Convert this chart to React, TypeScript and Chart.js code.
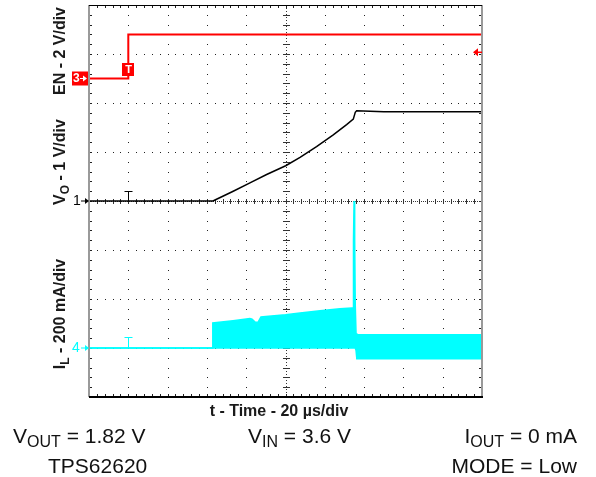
import React, { useEffect, useRef } from "react";
import { Chart, registerables } from "chart.js";

Chart.register(...registerables);

// ---- scope settings ----
const TIME_DIV = 20; // µs/div
const H_DIVS = 10;
const V_DIVS = 8;
const TRIGGER_T = 20; // µs

// EN channel (ch3), 2 V/div
const EN_SCALE = 2;
const EN_OFFSET = 2.5; // divisions above centre
const EN_TRIG = 1.07; // V, trigger level
const enTime = [0, 20, 20, 200];
const enVolts = [0, 0, 1.8, 1.8];

// VO channel (ch1), 1 V/div
const VO_SCALE = 1;
const VO_OFFSET = 0;
const voTime = [0, 63.1, 64.1, 73.4, 81.9, 90.4, 100.1, 107.4, 115.8, 124.3, 131.1, 134.5, 135.5, 136.2, 150, 170, 200];
const voVolts = [0, 0, 0.02, 0.2, 0.37, 0.54, 0.72, 0.89, 1.11, 1.35, 1.56, 1.67, 1.81, 1.84, 1.82, 1.82, 1.82];

// IL channel (ch4), 200 mA/div – switching ripple envelope
const IL_SCALE = 200;
const IL_OFFSET = -3;
const ilTime = [0, 62.9, 63.0, 73.3, 81.9, 83.0, 84.5, 86.0, 87.5, 90.0, 100.0, 107.4, 117.6, 127.7, 133.8, 134.4, 134.6, 134.9, 135.2, 135.5, 135.9, 136.3, 160, 180, 200];
const ilTop = [0, 0, 102, 111, 120, 118, 106, 105, 127, 129, 136, 143, 152, 160, 163, 163, 440, 600, 440, 175, 60, 54, 54, 54, 54];
const ilBottom = [0, 0, 0, 0, 0, 0, 0, 0, 0, 0, 0, 0, 0, 0, 0, 0, 0, 0, 0, 0, -10, -44, -44, -44, -44];

const RED = "#ff0000";
const CYAN = "#00ffff";
const FONT = '"Liberation Sans", Arial, Helvetica, sans-serif';

const toPts = (t: number[], v: number[], off: number, scale: number) =>
  t.map((tt, i) => ({ x: tt, y: off + v[i] / scale }));

const graticule = {
  id: "graticule",
  beforeDatasetsDraw(chart: any) {
    const { ctx, chartArea: a, scales } = chart;
    const x = scales.x;
    const y = scales.y;
    ctx.save();
    ctx.fillStyle = "#222";
    const minorX: number[] = [];
    for (let j = 0; j <= H_DIVS * 5; j++) minorX.push(Math.round(x.getPixelForValue((j * TIME_DIV) / 5)));
    const minorY: number[] = [];
    for (let j = 0; j <= V_DIVS * 5; j++) minorY.push(Math.round(y.getPixelForValue(-V_DIVS / 2 + j / 5)));
    // vertical dotted lines
    for (let i = 1; i < H_DIVS; i++) {
      const px = Math.round(x.getPixelForValue(i * TIME_DIV));
      for (const py of minorY) ctx.fillRect(px, py, 1, 1);
    }
    // horizontal dotted lines
    for (let k = 1; k < V_DIVS; k++) {
      const py = Math.round(y.getPixelForValue(-V_DIVS / 2 + k));
      for (const px of minorX) ctx.fillRect(px, py, 1, 1);
    }
    // edge ticks
    for (const px of minorX) {
      ctx.fillRect(px, a.top, 1, 3);
      ctx.fillRect(px, a.bottom - 3, 1, 3);
    }
    for (const py of minorY) {
      ctx.fillRect(a.left, py, 3, 1);
      ctx.fillRect(a.right - 3, py, 3, 1);
    }
    // centre crosshair ticks
    const cx = Math.round(x.getPixelForValue((H_DIVS / 2) * TIME_DIV));
    const cy = Math.round(y.getPixelForValue(0));
    ctx.fillStyle = "#333";
    for (const px of minorX) ctx.fillRect(px, cy - 2, 1, 5);
    for (const py of minorY) ctx.fillRect(cx - 3, py, 7, 1);
    for (let px = a.left; px < a.right; px += 2) ctx.fillRect(px, cy, 1, 1);
    for (let py = a.top; py < a.bottom; py += 3) ctx.fillRect(cx, py, 1, 1);
    ctx.restore();
  },
};

function arrowRight(ctx: any, x0: number, x1: number, yy: number) {
  ctx.beginPath();
  ctx.moveTo(x0, yy);
  ctx.lineTo(x1 - 2, yy);
  ctx.stroke();
  ctx.beginPath();
  ctx.moveTo(x1, yy);
  ctx.lineTo(x1 - 4, yy - 3);
  ctx.lineTo(x1 - 4, yy + 3);
  ctx.closePath();
  ctx.fill();
}

const overlay = {
  id: "overlay",
  afterDatasetsDraw(chart: any) {
    const { ctx, chartArea: a, scales } = chart;
    const x = scales.x;
    const y = scales.y;
    const L = a.left;
    ctx.save();
    // frame
    ctx.strokeStyle = "#9a9a9a";
    ctx.lineWidth = 2;
    ctx.beginPath();
    ctx.moveTo(L, a.top);
    ctx.lineTo(L, a.bottom);
    ctx.moveTo(a.right, a.top);
    ctx.lineTo(a.right, a.bottom);
    ctx.stroke();
    ctx.strokeStyle = "#000";
    ctx.lineWidth = 1;
    ctx.beginPath();
    ctx.moveTo(L, a.top + 0.5);
    ctx.lineTo(a.right, a.top + 0.5);
    ctx.stroke();
    ctx.lineWidth = 2;
    ctx.beginPath();
    ctx.moveTo(L, a.bottom);
    ctx.lineTo(a.right + 1, a.bottom);
    ctx.stroke();

    const enY = y.getPixelForValue(EN_OFFSET);
    const voY = y.getPixelForValue(VO_OFFSET);
    const ilY = y.getPixelForValue(IL_OFFSET);
    const tx = Math.round(x.getPixelForValue(TRIGGER_T)) + 0.5;

    // ch3 ground marker
    ctx.fillStyle = RED;
    ctx.fillRect(L - 17, enY - 7, 16, 14);
    ctx.fillStyle = "#fff";
    ctx.strokeStyle = "#fff";
    ctx.lineWidth = 1;
    ctx.font = `bold 12px ${FONT}`;
    ctx.textBaseline = "middle";
    ctx.textAlign = "left";
    ctx.fillText("3", L - 16, enY + 0.5);
    arrowRight(ctx, L - 9, L - 2, enY);

    // ch1 ground marker
    ctx.fillStyle = "#000";
    ctx.strokeStyle = "#000";
    ctx.font = `14px ${FONT}`;
    ctx.fillText("1", L - 16, voY + 0.5);
    arrowRight(ctx, L - 8, L, voY);

    // ch4 ground marker
    ctx.fillStyle = CYAN;
    ctx.strokeStyle = CYAN;
    ctx.fillText("4", L - 17, ilY + 0.5);
    arrowRight(ctx, L - 8, L, ilY);

    // trigger markers
    ctx.fillStyle = RED;
    ctx.fillRect(tx - 6.5, enY - 15.5, 12, 13);
    ctx.fillStyle = "#fff";
    ctx.font = `bold 11px ${FONT}`;
    ctx.textAlign = "center";
    ctx.fillText("T", tx, enY - 8.5);

    ctx.lineWidth = 1;
    ctx.strokeStyle = "#000";
    ctx.beginPath();
    ctx.moveTo(tx - 4, voY - 9.5);
    ctx.lineTo(tx + 4, voY - 9.5);
    ctx.moveTo(tx, voY - 9.5);
    ctx.lineTo(tx, voY);
    ctx.stroke();

    ctx.strokeStyle = CYAN;
    ctx.beginPath();
    ctx.moveTo(tx - 4, ilY - 10.5);
    ctx.lineTo(tx + 4, ilY - 10.5);
    ctx.moveTo(tx, ilY - 10.5);
    ctx.lineTo(tx, ilY);
    ctx.stroke();

    // trigger level arrow (right side)
    const trY = y.getPixelForValue(EN_OFFSET + EN_TRIG / EN_SCALE);
    ctx.strokeStyle = RED;
    ctx.fillStyle = RED;
    ctx.lineWidth = 1.5;
    ctx.beginPath();
    ctx.moveTo(a.right - 5, trY);
    ctx.lineTo(a.right, trY);
    ctx.stroke();
    ctx.beginPath();
    ctx.moveTo(a.right - 9, trY);
    ctx.lineTo(a.right - 4, trY - 4);
    ctx.lineTo(a.right - 4, trY + 4);
    ctx.closePath();
    ctx.fill();
    ctx.restore();
  },
};

const rotLabel: React.CSSProperties = {
  position: "absolute",
  left: 60,
  transform: "translate(-50%, -50%) rotate(-90deg)",
  font: `bold 16px ${FONT}`,
  lineHeight: "16px",
  whiteSpace: "nowrap",
  color: "#1a1a1a",
};

const capStyle: React.CSSProperties = {
  position: "absolute",
  font: `21px ${FONT}`,
  lineHeight: "21px",
  whiteSpace: "nowrap",
  color: "#111",
};

const subBig: React.CSSProperties = { fontSize: 16, position: "relative", top: 4 };
const subRot: React.CSSProperties = { fontSize: 12, position: "relative", top: 4 };

export default function App() {
  const ref = useRef<HTMLCanvasElement | null>(null);
  useEffect(() => {
    if (!ref.current) return;
    const chart = new Chart(ref.current, {
      type: "line",
      data: {
        datasets: [
          {
            data: toPts(enTime, enVolts, EN_OFFSET, EN_SCALE),
            borderColor: RED,
            borderWidth: 2,
            pointRadius: 0,
            tension: 0,
            fill: false,
          },
          {
            data: toPts(voTime, voVolts, VO_OFFSET, VO_SCALE),
            borderColor: "#000",
            borderWidth: 1.5,
            pointRadius: 0,
            tension: 0,
            fill: false,
          },
          {
            data: toPts(ilTime, ilBottom, IL_OFFSET, IL_SCALE),
            borderColor: CYAN,
            borderWidth: 1.5,
            pointRadius: 0,
            tension: 0,
            fill: false,
          },
          {
            data: toPts(ilTime, ilTop, IL_OFFSET, IL_SCALE),
            borderColor: CYAN,
            backgroundColor: CYAN,
            borderWidth: 1.5,
            pointRadius: 0,
            tension: 0,
            fill: "-1",
          },
        ],
      },
      options: {
        responsive: false,
        maintainAspectRatio: false,
        devicePixelRatio: 1,
        animation: false,
        events: [],
        layout: { padding: { left: 89, right: 114, top: 5, bottom: 80 } },
        scales: {
          x: { type: "linear", min: 0, max: H_DIVS * TIME_DIV, display: false },
          y: { type: "linear", min: -V_DIVS / 2, max: V_DIVS / 2, display: false },
        },
        plugins: { legend: { display: false }, tooltip: { enabled: false } },
      },
      plugins: [graticule, overlay],
    });
    return () => chart.destroy();
  }, []);

  return (
    <div style={{ position: "fixed", left: 0, top: 0, width: 596, height: 477, background: "#fff", overflow: "hidden" }}>
      <canvas ref={ref} width={596} height={477} style={{ position: "absolute", left: 0, top: 0, width: 596, height: 477 }} />
      <div style={{ ...rotLabel, top: 51 }}>EN - 2 V/div</div>
      <div style={{ ...rotLabel, top: 162 }}>
        V<span style={subRot}>O</span> - 1 V/div
      </div>
      <div style={{ ...rotLabel, top: 314 }}>
        I<span style={subRot}>L</span> - 200 mA/div
      </div>
      <div
        style={{
          position: "absolute",
          left: 279,
          top: 403,
          transform: "translateX(-50%)",
          font: `bold 16px ${FONT}`,
          lineHeight: "16px",
          whiteSpace: "nowrap",
          color: "#1a1a1a",
        }}
      >
        t - Time - 20 µs/div
      </div>
      <div style={{ ...capStyle, left: 13, top: 425 }}>
        V<span style={subBig}>OUT</span> = 1.82 V
      </div>
      <div style={{ ...capStyle, left: 248, top: 425 }}>
        V<span style={subBig}>IN</span> = 3.6 V
      </div>
      <div style={{ ...capStyle, right: 19, top: 425, textAlign: "right" }}>
        I<span style={subBig}>OUT</span> = 0 mA
      </div>
      <div style={{ ...capStyle, left: 48, top: 455 }}>TPS62620</div>
      <div style={{ ...capStyle, right: 19, top: 455, textAlign: "right" }}>MODE = Low</div>
    </div>
  );
}
